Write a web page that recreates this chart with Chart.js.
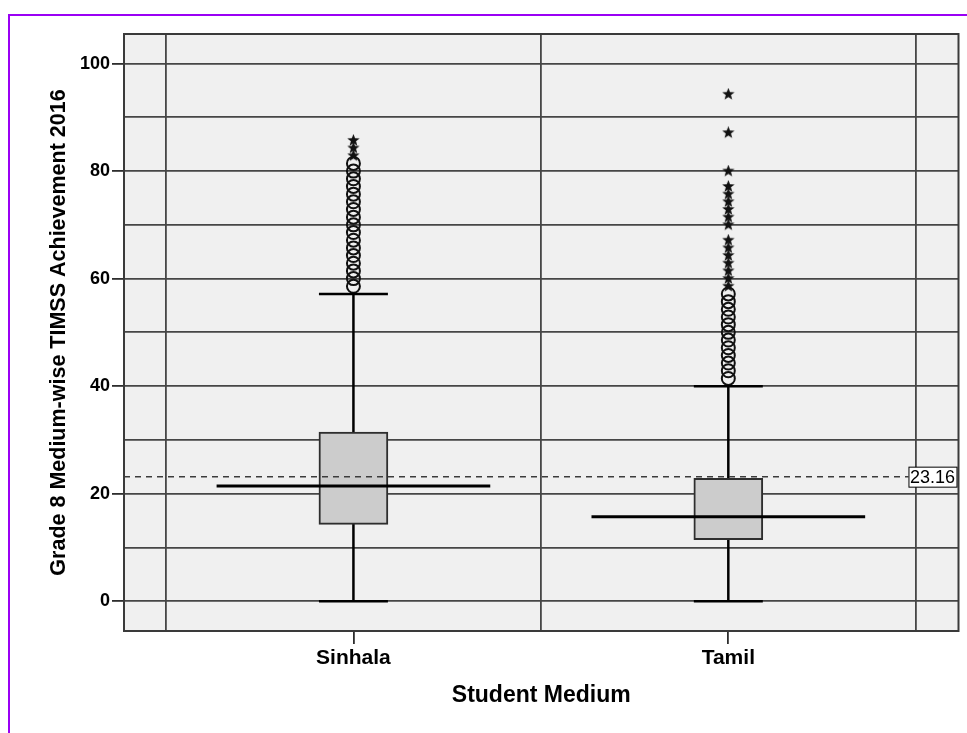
<!DOCTYPE html>
<html>
<head>
<meta charset="utf-8">
<script src="https://cdn.jsdelivr.net/npm/chart.js@4/dist/chart.umd.min.js"></script>
<style>
  html, body { margin: 0; padding: 0; background: #ffffff; }
  #wrap { width: 967px; height: 733px; }
</style>
</head>
<body>
<div id="wrap"><canvas id="chart" width="967" height="733"></canvas></div>
<script>
// Categories and their positions on the x scale
const categories = ['Sinhala', 'Tamil'];
const categoryPos = [1, 2];

// Box plot summaries per category (percent scores)
const whiskerLow  = [0.00, 0.00];
const q1          = [14.29, 11.43];
const median      = [21.43, 15.71];
const q3          = [31.43, 22.86];
const whiskerHigh = [57.14, 40.00];

// Outliers (circles) and extreme values (stars)
const sinhalaOutliers = [58.57, 60.00, 61.43, 62.86, 64.29, 65.71, 67.14, 68.57, 70.00,
                         71.43, 72.86, 74.29, 75.71, 77.14, 78.57, 80.00, 81.43];
const sinhalaExtremes = [82.86, 84.29, 85.71];
const tamilOutliers   = [41.43, 42.86, 44.29, 45.71, 47.14, 48.57, 50.00, 51.43,
                         52.86, 54.29, 55.71, 57.14];
const tamilExtremes   = [58.57, 60.00, 61.43, 62.86, 64.29, 65.71, 67.14, 70.00,
                         71.43, 72.86, 74.29, 75.71, 77.14, 80.00, 87.14, 94.29];

// Overall mean reference line
const referenceValue = 23.16;

// Axis ticks
const yGridValues  = [0, 10, 20, 30, 40, 50, 60, 70, 80, 90, 100];
const yLabelValues = [0, 20, 40, 60, 80, 100];
const xGridValues  = [0.5, 1, 1.5, 2, 2.5];

const FONT = '"Liberation Sans", Arial, Helvetica, sans-serif';
const X_MIN = 0.388, X_MAX = 2.614;
const BOX_HALF = 0.092;      // half width of box and whisker caps (x units)
const MEDIAN_HALF = 0.365;   // half width of median bar (x units)
const GRID = '#464646';
const CLEAR = 'rgba(0,0,0,0)';

// Filled five-point star used for extreme values
function makeStar(size) {
  const c = document.createElement('canvas');
  c.width = c.height = size;
  const g = c.getContext('2d');
  const r = size / 2, ri = r * 0.42;
  g.beginPath();
  for (let i = 0; i < 10; i++) {
    const a = -Math.PI / 2 + i * Math.PI / 5;
    const rr = i % 2 ? ri : r;
    g.lineTo(r + rr * Math.cos(a), r + rr * Math.sin(a));
  }
  g.closePath();
  g.fillStyle = '#111';
  g.fill();
  return c;
}
const starImg = makeStar(13);

function segment(x0, x1, y0, y1, width, order, extra) {
  return Object.assign({
    type: 'line',
    data: [{ x: x0, y: y0 }, { x: x1, y: y1 }],
    borderColor: '#000000',
    borderWidth: width,
    pointRadius: 0,
    tension: 0,
    fill: false,
    order: order
  }, extra || {});
}

const datasets = [];

categoryPos.forEach((c, i) => {
  // median bar
  datasets.push(segment(c - MEDIAN_HALF, c + MEDIAN_HALF, median[i], median[i], 3, 0));
  // whisker stem and caps
  datasets.push(segment(c, c, whiskerLow[i], whiskerHigh[i], 2.5, 3));
  datasets.push(segment(c - BOX_HALF, c + BOX_HALF, whiskerLow[i], whiskerLow[i], 2.5, 3));
  datasets.push(segment(c - BOX_HALF, c + BOX_HALF, whiskerHigh[i], whiskerHigh[i], 2.5, 3));
});

// reference line across the plot
datasets.push(segment(X_MIN, X_MAX, referenceValue, referenceValue, 1.5, 1,
  { borderColor: '#3c3c3c', borderDash: [6, 5] }));

// boxes (interquartile range)
datasets.push({
  type: 'bar',
  data: categoryPos.map((c, i) => ({ x: c, y: [q1[i], q3[i]] })),
  backgroundColor: '#cccccc',
  borderColor: '#2e2e2e',
  borderWidth: 2,
  borderSkipped: false,
  barThickness: 69,
  order: 2
});

function scatterSet(pos, values, style, radius, width) {
  return {
    type: 'scatter',
    data: values.map(v => ({ x: pos, y: v })),
    pointStyle: style,
    pointRadius: radius,
    pointBorderColor: '#111111',
    pointBorderWidth: width,
    pointBackgroundColor: CLEAR,
    showLine: false,
    order: 4
  };
}
datasets.push(scatterSet(categoryPos[0], sinhalaOutliers, 'circle', 6.5, 2));
datasets.push(scatterSet(categoryPos[0], sinhalaExtremes, starImg, 6.5, 1));
datasets.push(scatterSet(categoryPos[1], tamilOutliers, 'circle', 6.5, 2));
datasets.push(scatterSet(categoryPos[1], tamilExtremes, starImg, 6.5, 1));

const framePlugin = {
  id: 'frame',
  beforeDraw(chart) {
    const { ctx, chartArea: a, width, height } = chart;
    ctx.save();
    ctx.fillStyle = '#ffffff';
    ctx.fillRect(0, 0, width, height);
    ctx.fillStyle = '#f0f0f0';
    ctx.fillRect(a.left, a.top, a.right - a.left, a.bottom - a.top);
    // outer purple rule along the top and left
    ctx.strokeStyle = '#9a00f4';
    ctx.lineWidth = 2;
    ctx.beginPath();
    ctx.moveTo(9, height);
    ctx.lineTo(9, 15);
    ctx.lineTo(width, 15);
    ctx.stroke();
    ctx.restore();
  },
  beforeDatasetsDraw(chart) {
    const { ctx, chartArea: a } = chart;
    ctx.save();
    ctx.strokeStyle = '#3a3a3a';
    ctx.lineWidth = 2;
    ctx.strokeRect(a.left, a.top, a.right - a.left, a.bottom - a.top);
    ctx.restore();
  },
  afterDatasetsDraw(chart) {
    const { ctx, chartArea: a } = chart;
    const y = chart.scales.y.getPixelForValue(referenceValue);
    const txt = referenceValue.toFixed(2);
    ctx.save();
    ctx.font = '18px ' + FONT;
    const w = ctx.measureText(txt).width;
    const right = a.right - 2;
    const left = right - w - 3;
    ctx.fillStyle = '#ffffff';
    ctx.fillRect(left, y - 9.5, w + 3, 20);
    ctx.strokeStyle = '#000000';
    ctx.lineWidth = 1;
    ctx.strokeRect(left + 0.5, y - 9.5, w + 3, 20);
    ctx.fillStyle = '#000000';
    ctx.textAlign = 'left';
    ctx.textBaseline = 'middle';
    ctx.fillText(txt, left + 1.5, y + 1);
    ctx.restore();
  }
};

new Chart(document.getElementById('chart'), {
  type: 'bar',
  data: { datasets },
  plugins: [framePlugin],
  options: {
    responsive: false,
    animation: false,
    events: [],
    layout: { padding: { top: 34, right: 7, left: 0, bottom: 0 } },
    plugins: { legend: { display: false }, tooltip: { enabled: false } },
    scales: {
      x: {
        type: 'linear',
        min: X_MIN,
        max: X_MAX,
        offset: false,
        afterBuildTicks: s => { s.ticks = xGridValues.map(v => ({ value: v })); },
        afterFit: s => { s.height = 102; },
        border: { display: false },
        grid: {
          offset: false,
          lineWidth: 1.8,
          color: ctx => (ctx.tick && categoryPos.includes(ctx.tick.value)) ? CLEAR : GRID,
          tickColor: ctx => (ctx.tick && categoryPos.includes(ctx.tick.value)) ? '#2e2e2e' : CLEAR,
          tickLength: 13,
          tickWidth: 1.8
        },
        ticks: {
          autoSkip: false,
          maxRotation: 0,
          padding: 2,
          color: '#000000',
          font: { family: FONT, size: 21, weight: 'bold' },
          callback: v => {
            const i = categoryPos.indexOf(v);
            return i >= 0 ? categories[i] : '';
          }
        },
        title: {
          display: true,
          text: 'Student Medium',
          color: '#000000',
          font: { family: FONT, size: 23, weight: 'bold' },
          padding: { top: 0, bottom: 24 }
        }
      },
      y: {
        type: 'linear',
        min: -5.55,
        max: 105.5,
        afterBuildTicks: s => { s.ticks = yGridValues.map(v => ({ value: v })); },
        afterFit: s => { s.width = 124; },
        border: { display: false },
        grid: {
          lineWidth: 1.8,
          color: GRID,
          tickColor: ctx => (ctx.tick && yLabelValues.includes(ctx.tick.value)) ? '#2e2e2e' : CLEAR,
          tickLength: 12,
          tickWidth: 1.8
        },
        ticks: {
          padding: 2,
          color: '#000000',
          font: { family: FONT, size: 18, weight: 'bold' },
          callback: v => yLabelValues.includes(v) ? String(v) : ''
        },
        title: {
          display: true,
          text: 'Grade 8 Medium-wise TIMSS Achievement 2016',
          color: '#000000',
          font: { family: FONT, size: 21.5, weight: 'bold' },
          padding: { top: 46, bottom: 0 }
        }
      }
    }
  }
});
</script>
</body>
</html>
